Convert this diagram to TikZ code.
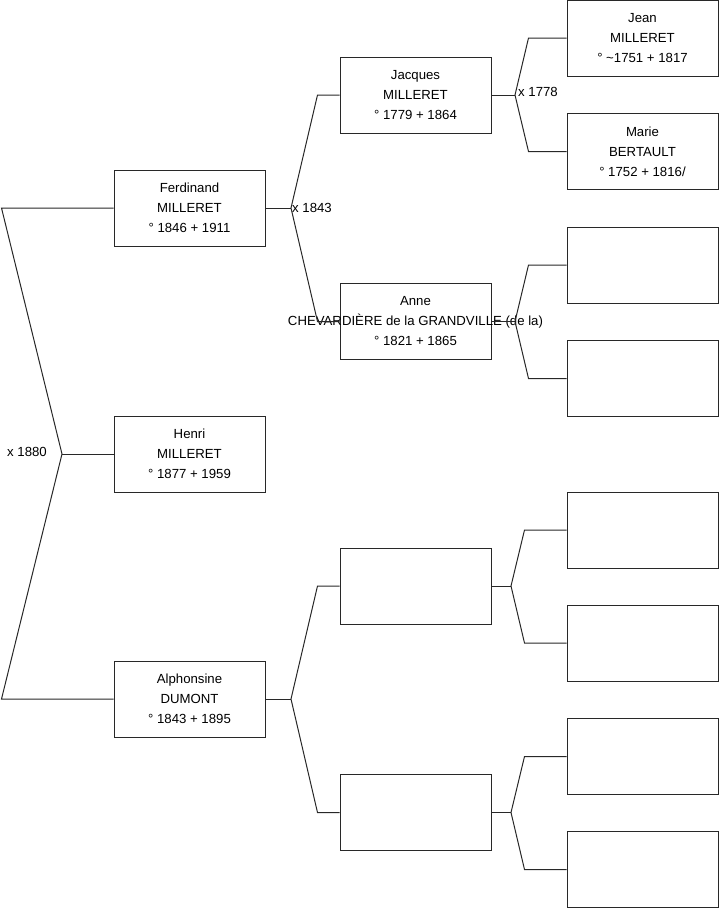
\documentclass[tikz,border=0pt]{standalone}
\usepackage{fontspec}
\setmainfont{Liberation Sans}
\usepackage{tikz}
\definecolor{linegray}{RGB}{40,40,40}
\tikzset{
  personbox/.style={draw=linegray, line width=1pt, fill=white, inner sep=0pt,
    minimum width=151pt, minimum height=76pt, align=center,
    font=\fontsize{13.2}{20}\selectfont},
  link/.style={draw=linegray, line width=1pt},
  marriage/.style={inner sep=0pt, font=\fontsize{13.2}{15}\selectfont}
}
% #1 child point, #2 upper parent, #3 lower parent, #4 fork point, #5 gap before the box
\newcommand{\fork}[5]{%
  \draw[link] (#1) -- (#4);
  \draw[link] (#2.west) -- ([xshift=-#5]#2.west) -- (#4)
    -- ([xshift=-#5]#3.west) -- (#3.west);}

\begin{document}
\begin{tikzpicture}[x=1pt, y=-1pt]
  \useasboundingbox (0,0) rectangle (719,908);
  % generation 0 and 1
  \node[personbox] (ferdinand) at (189.5,208) {Ferdinand\\MILLERET\\° 1846 + 1911};
  \node[personbox] (henri) at (189.5,454) {Henri\\MILLERET\\° 1877 + 1959};
  \node[personbox] (alphonsine) at (189.5,699) {Alphonsine\\DUMONT\\° 1843 + 1895};
  % generation 2
  \node[personbox] (jacques) at (415.5,95) {Jacques\\MILLERET\\° 1779 + 1864};
  \node[personbox] (anne) at (415.5,321.5) {Anne\\\makebox[0pt]{CHEVARDIÈRE de la GRANDVILLE (de la)}\\° 1821 + 1865};
  \node[personbox] (alphF) at (415.5,586) {};
  \node[personbox] (alphM) at (415.5,812.5) {};
  % generation 3
  \node[personbox] (jean) at (642.5,38) {Jean\\MILLERET\\° \textasciitilde1751 + 1817};
  \node[personbox] (marie) at (642.5,151.5) {Marie\\BERTAULT\\° 1752 + 1816/};
  \node[personbox] (anneFF) at (642.5,265) {};
  \node[personbox] (anneFM) at (642.5,378.5) {};
  \node[personbox] (alphFF) at (642.5,530) {};
  \node[personbox] (alphFM) at (642.5,643) {};
  \node[personbox] (alphMF) at (642.5,756.5) {};
  \node[personbox] (alphMM) at (642.5,869.5) {};

  \coordinate (x0) at (62,454);
  \coordinate (x1) at (291,208);
  \coordinate (x2) at (515,95);
  \coordinate (x3) at (515,321.5);
  \coordinate (x4) at (291,699);
  \coordinate (x5) at (511,586);
  \coordinate (x6) at (511,812.5);

  \fork{henri.west}{ferdinand}{alphonsine}{x0}{112pt}
  \fork{ferdinand.east}{jacques}{anne}{x1}{22pt}
  \fork{jacques.east}{jean}{marie}{x2}{38pt}
  \fork{anne.east}{anneFF}{anneFM}{x3}{38pt}
  \fork{alphonsine.east}{alphF}{alphM}{x4}{22pt}
  \fork{alphF.east}{alphFF}{alphFM}{x5}{42pt}
  \fork{alphM.east}{alphMF}{alphMM}{x6}{42pt}

  \node[marriage, anchor=east] (m0) at ([xshift=-15pt,yshift=2pt]x0) {x 1880};
  \node[marriage, anchor=west] (m1) at ([xshift=1pt]x1) {x 1843};
  \node[marriage, anchor=west] (m2) at ([xshift=3pt,yshift=3pt]x2) {x 1778};
\end{tikzpicture}
\end{document}
